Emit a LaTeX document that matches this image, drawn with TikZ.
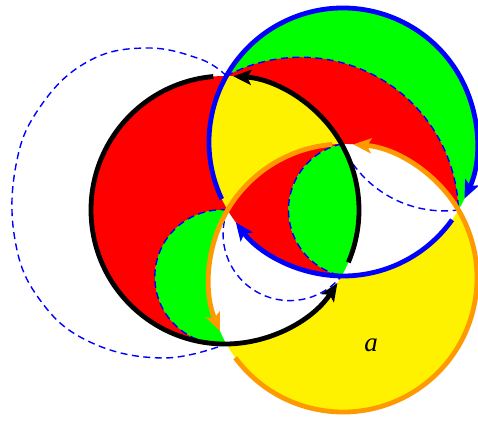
\documentclass[tikz,border=0pt]{standalone}
\usepackage{fontspec}
\setmainfont{Liberation Serif}
\usetikzlibrary{arrows.meta}
\definecolor{ringorange}{RGB}{255,153,0}

\begin{document}
\begin{tikzpicture}[x=1pt,y=1pt,
  ring/.style={line width=4.8pt, -{Stealth[length=18pt, width=15pt, inset=4pt]}},
  guide/.style={blue, line width=1.4pt, dash pattern=on 7pt off 4.5pt}]
\useasboundingbox (0,0) rectangle (478,421);
\coordinate (K) at (225,211);
\coordinate (B) at (343,279);
\coordinate (O) at (343,143);
\coordinate (p1) at (227.54,211);
\coordinate (p2) at (226.38,77.01);
\coordinate (p3) at (341.62,145.01);
\coordinate (p4) at (458.46,211);
\coordinate (p5) at (341.62,276.99);
\coordinate (p6) at (226.38,344.99);
\fill[green] (p6) arc[start angle=150.5, end angle=-30.49, radius=134] arc[start angle=1.82, end angle=118.23, radius=157.6] -- cycle;
\fill[red] (p6) arc[start angle=118.23, end angle=1.82, radius=157.6] arc[start angle=30.49, end angle=90.59, radius=134] arc[start angle=29.5, end angle=89.41, radius=134] -- cycle;
\fill[yellow] (p6) arc[start angle=150.5, end angle=210.49, radius=134] arc[start angle=149.51, end angle=90.59, radius=134] arc[start angle=29.5, end angle=89.41, radius=134] -- cycle;
\fill[red] (p1) arc[start angle=149.51, end angle=90.59, radius=134] arc[start angle=102.29, end angle=257.71, radius=67.5] arc[start angle=269.41, end angle=210.49, radius=134] -- cycle;
\fill[green] (p3) arc[start angle=-29.5, end angle=29.5, radius=134] arc[start angle=102.29, end angle=257.71, radius=67.5] -- cycle;
\fill[green] (p1) arc[start angle=85.27, end angle=273.74, radius=67.2] arc[start angle=209.5, end angle=149.51, radius=134] -- cycle;
\fill[red] (p6) arc[start angle=89.41, end angle=270.59, radius=134] arc[start angle=273.74, end angle=85.27, radius=67.2] arc[start angle=210.49, end angle=150.5, radius=134] -- cycle;
\fill[yellow] (p2) arc[start angle=209.5, end angle=390.49, radius=134] arc[start angle=-30.49, end angle=-90.59, radius=134] arc[start angle=-29.5, end angle=-89.41, radius=134] -- cycle;
\draw[guide] plot[smooth, tension=0.7] coordinates {(p6) (200,362) (145,373) (87,359) (40,314) (16,256) (15,181) (40,121) (90,79) (163,63) (p2)};
\draw[guide] (p6) arc[start angle=118.23, end angle=1.82, radius=157.6];
\draw[guide] (p5) arc[start angle=102.29, end angle=257.71, radius=67.5];
\draw[guide] (p1) arc[start angle=85.27, end angle=273.74, radius=67.2];
\draw[guide] (p1) arc[start angle=158.98, end angle=320.88, radius=66.7];
\draw[guide] (p5) arc[start angle=203.73, end angle=277.42, radius=111.9];
\draw[ring, ringorange] ([shift={(94.6:134)}]O) arc[start angle=94.6, end angle=203.3, radius=134];
\draw[ring, ringorange] ([shift={(216.5:134)}]O) arc[start angle=216.5, end angle=445.6, radius=134];
\draw[ring, blue] ([shift={(205.2:134)}]B) arc[start angle=205.2, end angle=-25, radius=134];
\draw[ring, blue] ([shift={(-35.5:134)}]B) arc[start angle=-35.5, end angle=-143.1, radius=134];
\draw[ring] ([shift={(95:134)}]K) arc[start angle=95, end angle=327, radius=134];
\draw[ring] ([shift={(-23:134)}]K) arc[start angle=-23, end angle=86.5, radius=134];
\node (lbl) at (371,76) {\fontsize{27}{27}\selectfont\textit{a}};
\end{tikzpicture}
\end{document}
